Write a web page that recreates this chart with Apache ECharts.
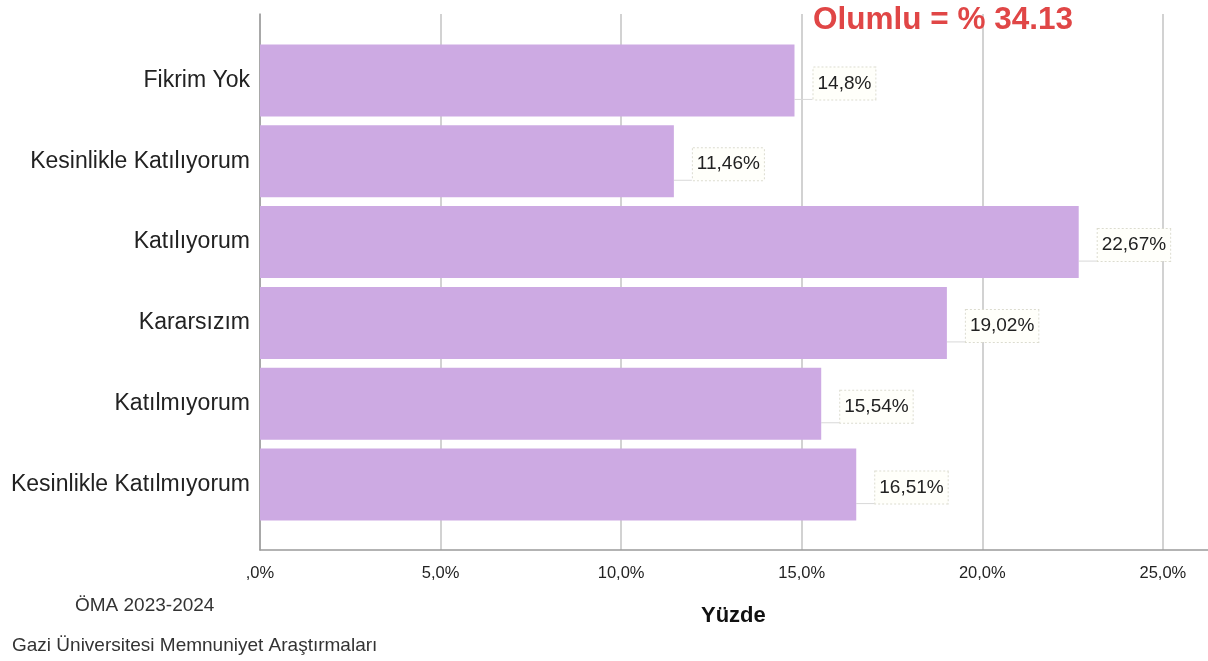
<!DOCTYPE html>
<html>
<head>
<meta charset="utf-8">
<script src="https://cdn.jsdelivr.net/npm/echarts@6/dist/echarts.min.js"></script>
<style>
  html, body { margin: 0; padding: 0; background: #fff; }
  #chart { width: 1208px; height: 661px; }
</style>
</head>
<body>
<div id="chart"></div>
<script>
const categories = ['Fikrim Yok', 'Kesinlikle Katılıyorum', 'Katılıyorum', 'Kararsızım', 'Katılmıyorum', 'Kesinlikle Katılmıyorum'];
const percentages = [14.8, 11.46, 22.67, 19.02, 15.54, 16.51];
const valueLabels = ['14,8%', '11,46%', '22,67%', '19,02%', '15,54%', '16,51%'];
const xTickLabels = [',0%', '5,0%', '10,0%', '15,0%', '20,0%', '25,0%'];
const xMin = 0;
const xMax = 26.25;
const xInterval = 5;
const headline = 'Olumlu = % 34.13';
const axisTitle = 'Yüzde';
const noteYear = 'ÖMA 2023-2024';
const noteSource = 'Gazi Üniversitesi Memnuniyet Araştırmaları';

const FONT = '"Liberation Sans", Arial, sans-serif';
const chart = echarts.init(document.getElementById('chart'), null, { renderer: 'canvas' });

const option = {
  backgroundColor: '#ffffff',
  animation: false,
  textStyle: { fontFamily: FONT },
  title: [
    { text: headline, left: 813, top: 4, padding: 0,
      textStyle: { fontSize: 31.5, fontWeight: 'bold', color: '#e04646', fontFamily: FONT } },
    { text: axisTitle, left: 701, top: 605, padding: 0,
      textStyle: { fontSize: 22, fontWeight: 'bold', color: '#111', fontFamily: FONT } },
    { text: noteYear, left: 75, top: 596, padding: 0,
      textStyle: { fontSize: 19, fontWeight: 'normal', color: '#333', fontFamily: FONT } },
    { text: noteSource, left: 12, top: 636, padding: 0,
      textStyle: { fontSize: 19, fontWeight: 'normal', color: '#333', fontFamily: FONT } }
  ],
  grid: [
    { left: 260, right: 0, top: 40, height: 485, containLabel: false },
    { left: 260, right: 0, top: 14, bottom: 111, containLabel: false }
  ],
  xAxis: [
    { gridIndex: 0, type: 'value', min: xMin, max: xMax, show: false },
    { gridIndex: 1, type: 'value', min: xMin, max: xMax, interval: xInterval,
      axisLine: { show: true, lineStyle: { color: '#9a9a9a', width: 1.5 } },
      axisTick: { show: false },
      axisLabel: { showMaxLabel: false, fontSize: 16.5, color: '#222', margin: 15, fontFamily: FONT,
        formatter: v => { const i = Math.round(v / xInterval); return (Math.abs(v - i * xInterval) < 1e-6 && xTickLabels[i]) ? xTickLabels[i] : ''; } },
      splitLine: { show: true, showMaxLine: false, lineStyle: { color: '#d2d2d2', width: 2 } }
    }
  ],
  yAxis: [
    { gridIndex: 0, type: 'category', data: categories, inverse: true,
      axisLine: { show: false }, axisTick: { show: false }, splitLine: { show: false },
      axisLabel: { fontSize: 23, color: '#222', margin: 10, fontFamily: FONT } },
    { gridIndex: 1, type: 'value', min: 0, max: 1,
      axisLine: { show: true, lineStyle: { color: '#9a9a9a', width: 1.5 } },
      axisTick: { show: false }, axisLabel: { show: false }, splitLine: { show: false } }
  ],
  series: [
    { type: 'bar', xAxisIndex: 0, yAxisIndex: 0, data: percentages, barWidth: 72,
      itemStyle: { color: '#cdaae3' },
      label: { show: true, position: 'right', distance: 19, offset: [0, 3],
        formatter: p => valueLabels[p.dataIndex],
        fontSize: 19, color: '#222', fontFamily: FONT,
        backgroundColor: '#fffffa', borderColor: '#dcdccf', borderWidth: 1, borderType: 'dotted',
        padding: [7, 4, 6, 4] },
      labelLine: { show: true, lineStyle: { color: '#d8d8d8', width: 1 } }
    }
  ]
};
chart.setOption(option);
</script>
</body>
</html>
